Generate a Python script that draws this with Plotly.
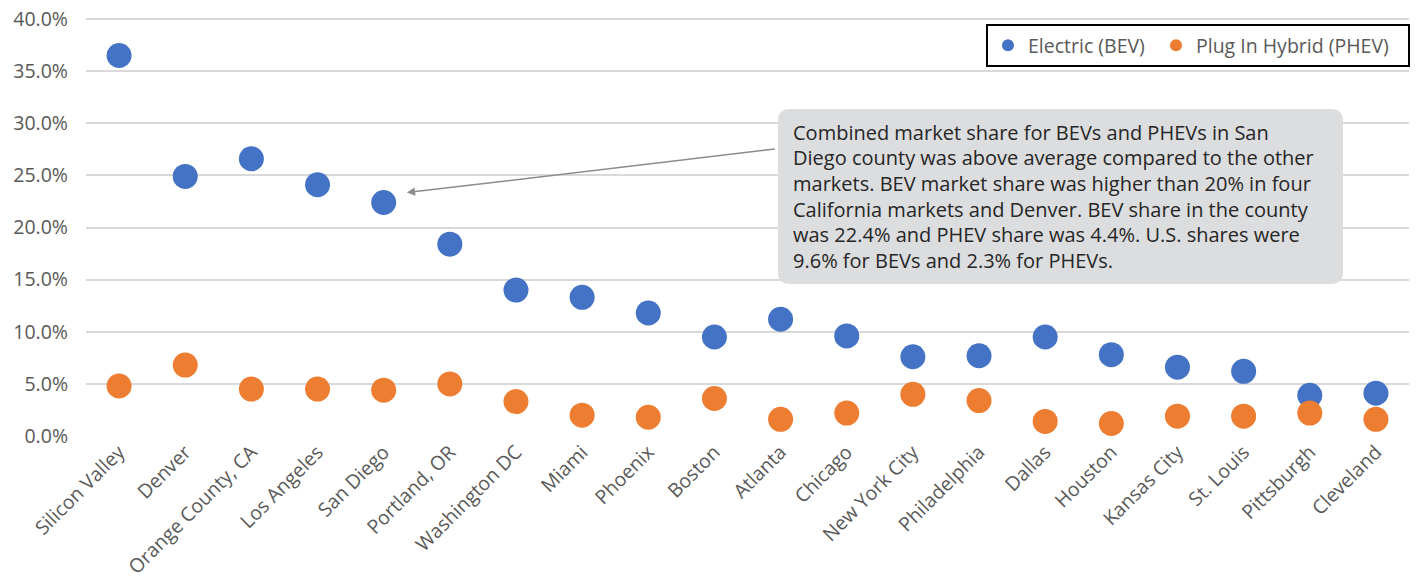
import plotly.graph_objects as go

categories = ["Silicon Valley", "Denver", "Orange County, CA", "Los Angeles", "San Diego",
              "Portland, OR", "Washington DC", "Miami", "Phoenix", "Boston", "Atlanta",
              "Chicago", "New York City", "Philadelphia", "Dallas", "Houston",
              "Kansas City", "St. Louis", "Pittsburgh", "Cleveland"]
bev = [36.5, 24.9, 26.6, 24.1, 22.4, 18.4, 14.0, 13.3, 11.8, 9.5, 11.2,
       9.6, 7.6, 7.7, 9.5, 7.8, 6.6, 6.2, 3.9, 4.1]
phev = [4.8, 6.8, 4.5, 4.5, 4.4, 5.0, 3.3, 2.0, 1.8, 3.6, 1.6,
        2.2, 4.0, 3.4, 1.4, 1.2, 1.9, 1.9, 2.2, 1.6]
y_ticks = [0, 5, 10, 15, 20, 25, 30, 35, 40]
note_lines = [
    "Combined market share for BEVs and PHEVs in San",
    "Diego county was above average compared to the other",
    "markets. BEV market share was higher than 20% in four",
    "California markets and Denver. BEV share in the county",
    "was 22.4% and PHEV share was 4.4%. U.S. shares were",
    "9.6% for BEVs and 2.3% for PHEVs.",
]

W, H = 1418, 578
ML, MR, MT, MB = 86, 9, 18, 142
PW, PH = W - ML - MR, H - MT - MB
FONT = "Open Sans"


def px(x):
    return (x - ML) / PW


def py(y):
    return (H - MB - y) / PH


fig = go.Figure()
fig.add_trace(go.Scatter(x=categories, y=bev, mode="markers", name="Electric (BEV)",
                         legendwidth=123,
                         marker=dict(size=25, color="#4472C4")))
fig.add_trace(go.Scatter(x=categories, y=phev, mode="markers", name="Plug In Hybrid (PHEV)",
                         legendwidth=207,
                         marker=dict(size=25, color="#ED7D31")))

# rounded callout box
x0, x1, y0, y1 = px(778), px(1343), py(109), py(284)
r = 12
rx, ry = r / PW, r / PH
path = (f"M {x0+rx},{y0} L {x1-rx},{y0} Q {x1},{y0} {x1},{y0-ry} "
        f"L {x1},{y1+ry} Q {x1},{y1} {x1-rx},{y1} "
        f"L {x0+rx},{y1} Q {x0},{y1} {x0},{y1+ry} "
        f"L {x0},{y0-ry} Q {x0},{y0} {x0+rx},{y0} Z")
fig.add_shape(type="path", path=path, xref="paper", yref="paper",
              fillcolor="#DCDDDF", line=dict(width=0), layer="above")

annotations = []
for i, line in enumerate(note_lines):
    annotations.append(dict(x=px(791), y=py(132 + i * 25.7), xref="paper", yref="paper",
                            text=line, showarrow=False, xanchor="left", yanchor="middle",
                            font=dict(family=FONT, size=20, color="#262626")))

sd = categories.index("San Diego")
annotations.append(dict(x=sd + 0.35, y=bev[sd] + 0.95, xref="x", yref="y",
                        text=" ", showarrow=True, arrowhead=2, arrowsize=1.1,
                        arrowwidth=1.5, arrowcolor="#8C8C8C", ax=372, ay=-44,
                        standoff=0, startstandoff=0))

fig.update_layout(
    width=W, height=H,
    margin=dict(l=ML, r=MR, t=MT, b=MB, autoexpand=False),
    plot_bgcolor="white", paper_bgcolor="white",
    font=dict(family=FONT, size=18, color="#595959"),
    showlegend=True,
    legend=dict(orientation="h", x=px(986), xanchor="left", y=py(24), yanchor="top",
                bordercolor="#000000", borderwidth=2, bgcolor="white",
                itemsizing="constant", font=dict(family=FONT, size=19.5, color="#595959")),
    annotations=annotations,
    xaxis=dict(tickangle=-45, showgrid=False, showline=False, ticks="", automargin=False,
               range=[-0.5, len(categories) - 0.5],
               tickfont=dict(family=FONT, size=19.5, color="#595959")),
    yaxis=dict(range=[0, 40.1], tickvals=y_ticks, automargin=False,
               ticktext=[f"{v:.1f}%" for v in y_ticks],
               ticklabeloverflow="allow",
               showgrid=True, gridcolor="#D9D9D9", gridwidth=1.5,
               zeroline=False, showline=False, ticks="", ticklabelstandoff=17,
               tickfont=dict(family=FONT, size=19.5, color="#595959")),
)

# remove the browser's default 8px body margin so the figure fills the window
fig.write_html("out.html", config={"displayModeBar": False},
               post_script="document.body.style.margin='0';")
